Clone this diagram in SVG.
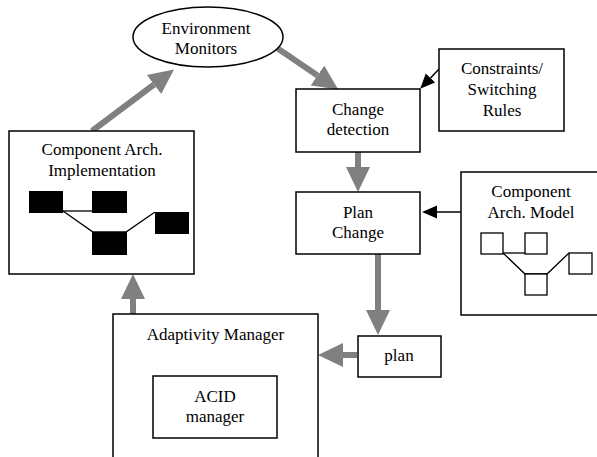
<svg xmlns="http://www.w3.org/2000/svg" width="597" height="457" viewBox="0 0 597 457">
  <style>
    .box { fill: #ffffff; stroke: #000000; stroke-width: 1.5; }
    .blk { fill: #000000; stroke: none; }
    .sq { fill: #ffffff; stroke: #000000; stroke-width: 1.3; }
    .wire { fill: none; stroke: #000000; stroke-width: 1.3; }
    .flow { fill: none; stroke: #808080; stroke-width: 6; }
    .ref { fill: none; stroke: #000000; stroke-width: 1.5; }
    .lbl { font-family: "Times New Roman", Times, "Liberation Serif", "DejaVu Serif", "Noto Serif", serif; font-size: 17px; fill: #000000; text-anchor: middle; }
  </style>
  <defs>
    <marker id="grayHead" markerUnits="userSpaceOnUse" markerWidth="26" markerHeight="26" refX="0" refY="12" orient="auto" viewBox="0 0 26 24">
      <polygon points="0,0 25,12 0,24" fill="#808080"/>
    </marker>
    <marker id="blackHead" markerUnits="userSpaceOnUse" markerWidth="16" markerHeight="14" refX="0" refY="6.5" orient="auto" viewBox="0 0 16 13">
      <polygon points="0,0 15,6.5 0,13" fill="#000000"/>
    </marker>
  </defs>

  <g id="connectors">
    <line class="flow" x1="92" y1="131" x2="154" y2="84.5" marker-end="url(#grayHead)"/>
    <line class="flow" x1="277" y1="48" x2="317.5" y2="75.5" marker-end="url(#grayHead)"/>
    <line class="flow" x1="358" y1="152" x2="358" y2="167" marker-end="url(#grayHead)"/>
    <line class="flow" x1="378" y1="254" x2="378" y2="310" marker-end="url(#grayHead)"/>
    <line class="flow" x1="357" y1="355" x2="343" y2="355" marker-end="url(#grayHead)"/>
    <line class="flow" x1="133" y1="314" x2="133" y2="299" marker-end="url(#grayHead)"/>
    <line class="ref" x1="440" y1="68" x2="430.5" y2="78" marker-end="url(#blackHead)"/>
    <line class="ref" x1="461" y1="212" x2="437" y2="212" marker-end="url(#blackHead)"/>
  </g>

  <g id="environment-monitors">
    <ellipse class="box" cx="208" cy="37" rx="75" ry="30"/>
    <text class="lbl" x="206" y="34">Environment</text>
    <text class="lbl" x="206" y="54">Monitors</text>
  </g>

  <g id="component-arch-implementation">
    <rect class="box" x="9" y="131" width="185" height="143"/>
    <text class="lbl" x="102" y="155">Component Arch.</text>
    <text class="lbl" x="102" y="176">Implementation</text>
    <polyline class="wire" points="63,211 92,211"/>
    <polyline class="wire" points="63,211 93,232 126,232 155,212"/>
    <rect class="blk" x="29" y="191" width="34" height="22"/>
    <rect class="blk" x="92" y="191" width="35" height="22"/>
    <rect class="blk" x="155" y="212" width="34" height="22"/>
    <rect class="blk" x="92" y="232" width="35" height="23"/>
  </g>

  <g id="change-detection">
    <rect class="box" x="296" y="89" width="124" height="63"/>
    <text class="lbl" x="358" y="115">Change</text>
    <text class="lbl" x="358" y="135">detection</text>
  </g>

  <g id="constraints">
    <rect class="box" x="439" y="49" width="125" height="82"/>
    <text class="lbl" x="502" y="74">Constraints/</text>
    <text class="lbl" x="502" y="95">Switching</text>
    <text class="lbl" x="502" y="116">Rules</text>
  </g>

  <g id="plan-change">
    <rect class="box" x="296" y="192" width="124" height="62"/>
    <text class="lbl" x="358" y="218">Plan</text>
    <text class="lbl" x="358" y="238">Change</text>
  </g>

  <g id="component-arch-model">
    <rect class="box" x="461" y="172" width="150" height="143"/>
    <text class="lbl" x="531" y="197">Component</text>
    <text class="lbl" x="531" y="218">Arch. Model</text>
    <polyline class="wire" points="503,253 525,253"/>
    <polyline class="wire" points="503,253 525,274 547,274 569,253"/>
    <rect class="sq" x="481" y="233" width="22" height="21"/>
    <rect class="sq" x="525" y="233" width="22" height="21"/>
    <rect class="sq" x="569" y="253" width="23" height="21"/>
    <rect class="sq" x="525" y="274" width="22" height="21"/>
  </g>

  <g id="plan">
    <rect class="box" x="358" y="336" width="83" height="41"/>
    <text class="lbl" x="399" y="361">plan</text>
  </g>

  <g id="adaptivity-manager">
    <rect class="box" x="113" y="314" width="205" height="160"/>
    <text class="lbl" x="215.5" y="340">Adaptivity Manager</text>
  </g>

  <g id="acid-manager">
    <rect class="box" x="153" y="376" width="124" height="62"/>
    <text class="lbl" x="215" y="402">ACID</text>
    <text class="lbl" x="215" y="422">manager</text>
  </g>
</svg>
